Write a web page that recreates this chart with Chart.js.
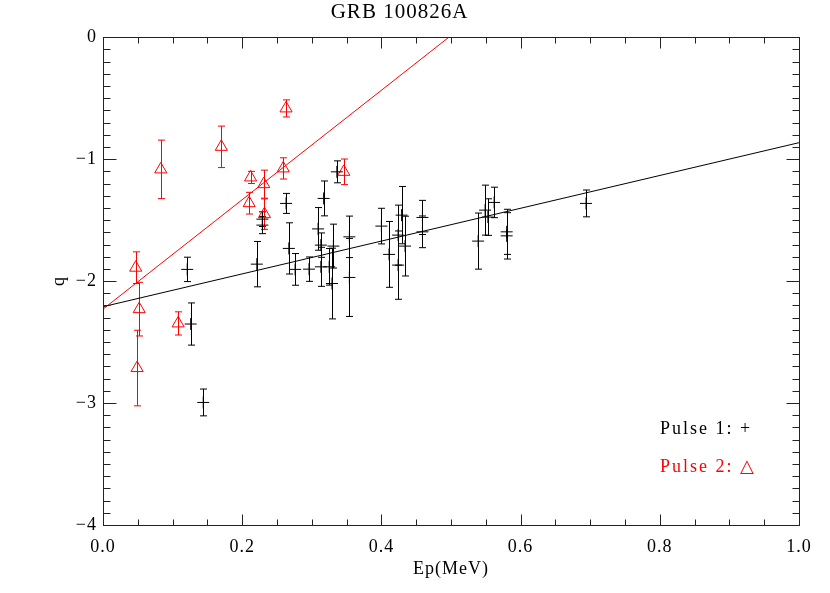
<!DOCTYPE html>
<html>
<head>
<meta charset="utf-8">
<script src="https://cdn.jsdelivr.net/npm/chart.js@4.4.1/dist/chart.umd.min.js"></script>
<style>
  html, body { margin: 0; padding: 0; background: #fff; }
</style>
</head>
<body>
<canvas id="grbChart" width="830" height="593"></canvas>
<script>
// Pulse 1 (black crosses): Ep in MeV, q, and the 1-sigma error on q
const pulse1Ep  = [0.121, 0.126, 0.144, 0.221, 0.229, 0.229, 0.263, 0.267, 0.276, 0.296,
                   0.309, 0.317, 0.313, 0.313, 0.325, 0.329, 0.331, 0.336, 0.354, 0.354,
                   0.400, 0.411, 0.424, 0.424, 0.429, 0.434, 0.459, 0.459, 0.539, 0.549,
                   0.553, 0.562, 0.580, 0.580, 0.694];
const pulse1Q   = [-1.904, -2.352, -2.995, -1.861, -1.492, -1.541, -1.363, -1.732, -1.904, -1.902,
                   -1.572, -1.322, -1.705, -1.883, -1.883, -2.020, -1.713, -1.104, -1.637, -1.970,
                   -1.549, -1.781, -1.623, -1.869, -1.459, -1.713, -1.478, -1.596, -1.672, -1.418,
                   -1.475, -1.355, -1.596, -1.629, -1.363];
const pulse1Err = [0.10, 0.173, 0.11, 0.186, 0.06, 0.07, 0.082, 0.21, 0.13, 0.10,
                   0.175, 0.143, 0.10, 0.16, 0.15, 0.29, 0.18, 0.09, 0.17, 0.32,
                   0.146, 0.27, 0.246, 0.28, 0.235, 0.245, 0.14, 0.13, 0.23, 0.205,
                   0.15, 0.125, 0.185, 0.19, 0.11];

// Pulse 2 (red triangles)
const pulse2Ep  = [0.047, 0.052, 0.049, 0.083, 0.170, 0.263, 0.212, 0.231, 0.259, 0.210, 0.232, 0.346, 0.108];
const pulse2Q   = [-1.89, -2.23, -2.713, -1.084, -0.899, -0.584, -1.150, -1.205, -1.076, -1.361, -1.451, -1.104, -2.347];
const pulse2Err = [0.13, 0.22, 0.31, 0.24, 0.17, 0.07, 0.05, 0.115, 0.087, 0.089, 0.125, 0.105, 0.095];

// Fitted lines (end points)
const fit1Ep = [0.0, 1.0];
const fit1Q  = [-2.21, -0.865];
const fit2Ep = [0.0, 0.497];
const fit2Q  = [-2.23, 0.0];

const toPoints = (xs, ys) => xs.map((x, i) => ({ x: x, y: ys[i] }));
const fmtMinus = s => String(s).replace('-', '\u2212');

// error bars on q, drawn through the scales
const errorBars = {
  id: 'errorBars',
  beforeDatasetsDraw(chart) {
    const ctx = chart.ctx;
    const yScale = chart.scales.y;
    chart.data.datasets.forEach((ds, i) => {
      if (!ds.errors) return;
      const meta = chart.getDatasetMeta(i);
      ctx.save();
      ctx.strokeStyle = ds.borderColor;
      ctx.lineWidth = 1;
      meta.data.forEach((pt, j) => {
        const v = ds.data[j].y;
        const e = ds.errors[j];
        const y1 = yScale.getPixelForValue(v + e);
        const y2 = yScale.getPixelForValue(v - e);
        const x = Math.round(pt.x) + 0.5;
        ctx.beginPath();
        ctx.moveTo(x, y1); ctx.lineTo(x, y2);
        ctx.moveTo(x - 3.5, y1); ctx.lineTo(x + 3.5, y1);
        ctx.moveTo(x - 3.5, y2); ctx.lineTo(x + 3.5, y2);
        ctx.stroke();
      });
      ctx.restore();
    });
  }
};

// IDL style box with inward ticks on all four sides
const idlFrame = {
  id: 'idlFrame',
  beforeDraw(chart) {
    chart.ctx.letterSpacing = '1px';
  },
  afterDraw(chart) {
    const ctx = chart.ctx;
    const a = chart.chartArea;
    const xs = chart.scales.x, ys = chart.scales.y;
    ctx.save();
    ctx.strokeStyle = '#222';
    ctx.lineWidth = 1;
    const L = Math.round(a.left) + 0.5, R = Math.round(a.right) + 0.5;
    const T = Math.round(a.top) + 0.5, B = Math.round(a.bottom) + 0.5;
    ctx.strokeRect(L, T, R - L, B - T);
    ctx.beginPath();
    for (let k = 0; k <= 20; k++) {
      const px = Math.round(xs.getPixelForValue(k * 0.05)) + 0.5;
      const len = k % 4 === 0 ? 11 : 6;
      ctx.moveTo(px, B); ctx.lineTo(px, B - len);
      ctx.moveTo(px, T); ctx.lineTo(px, T + len);
    }
    for (let k = 0; k <= 40; k++) {
      const py = Math.round(ys.getPixelForValue(-4 + k * 0.1)) + 0.5;
      const len = k % 10 === 0 ? 13 : 7;
      ctx.moveTo(L, py); ctx.lineTo(L + len, py);
      ctx.moveTo(R, py); ctx.lineTo(R - len, py);
    }
    ctx.stroke();

    // legend text
    ctx.font = "18px 'Liberation Serif', 'DejaVu Serif', serif";
    ctx.letterSpacing = '2px';
    ctx.textBaseline = 'alphabetic';
    ctx.fillStyle = '#000';
    ctx.fillText('Pulse 1: +', 660, 434);
    ctx.fillStyle = '#ff0000';
    ctx.fillText('Pulse 2: \u25B3', 660, 472);
    ctx.restore();
  }
};

Chart.defaults.font.family = "'Liberation Serif', 'DejaVu Serif', serif";
Chart.defaults.font.size = 18;
Chart.defaults.color = '#000';

const ctx = document.getElementById('grbChart').getContext('2d');
new Chart(ctx, {
  type: 'scatter',
  data: {
    datasets: [
      {
        label: 'fit 1',
        data: toPoints(fit1Ep, fit1Q),
        showLine: true,
        borderColor: '#000',
        borderWidth: 1,
        pointRadius: 0
      },
      {
        label: 'fit 2',
        data: toPoints(fit2Ep, fit2Q),
        showLine: true,
        borderColor: '#ff0000',
        borderWidth: 1,
        pointRadius: 0
      },
      {
        label: 'Pulse 1',
        data: toPoints(pulse1Ep, pulse1Q),
        errors: pulse1Err,
        pointStyle: 'cross',
        pointRadius: 6,
        borderColor: '#000',
        borderWidth: 1
      },
      {
        label: 'Pulse 2',
        data: toPoints(pulse2Ep, pulse2Q),
        errors: pulse2Err,
        pointStyle: 'triangle',
        pointRadius: 7,
        backgroundColor: 'rgba(0,0,0,0)',
        borderColor: '#ff0000',
        borderWidth: 1
      }
    ]
  },
  options: {
    responsive: false,
    animation: false,
    layout: { padding: { right: 31 } },
    plugins: {
      legend: { display: false },
      tooltip: { enabled: false },
      title: {
        display: true,
        text: 'GRB 100826A',
        font: { size: 21, weight: 'normal' },
        color: '#000',
        padding: { top: 0, bottom: 12 }
      }
    },
    scales: {
      x: {
        type: 'linear',
        min: 0, max: 1,
        grid: { display: false, drawTicks: false },
        border: { display: false },
        ticks: { stepSize: 0.2, padding: 11, maxRotation: 0, callback: v => v.toFixed(1) },
        title: { display: true, text: 'Ep(MeV)', font: { size: 18 }, padding: { bottom: 13 } },
        afterFit: s => { s.height = 68; }
      },
      y: {
        type: 'linear',
        min: -4, max: 0,
        grid: { display: false, drawTicks: false },
        border: { display: false },
        ticks: { stepSize: 1, padding: 6, callback: v => fmtMinus(v) },
        title: { display: true, text: 'q', font: { size: 18 }, padding: { top: 48 } },
        afterFit: s => { s.width = 103; }
      }
    }
  },
  plugins: [errorBars, idlFrame]
});
</script>
</body>
</html>
